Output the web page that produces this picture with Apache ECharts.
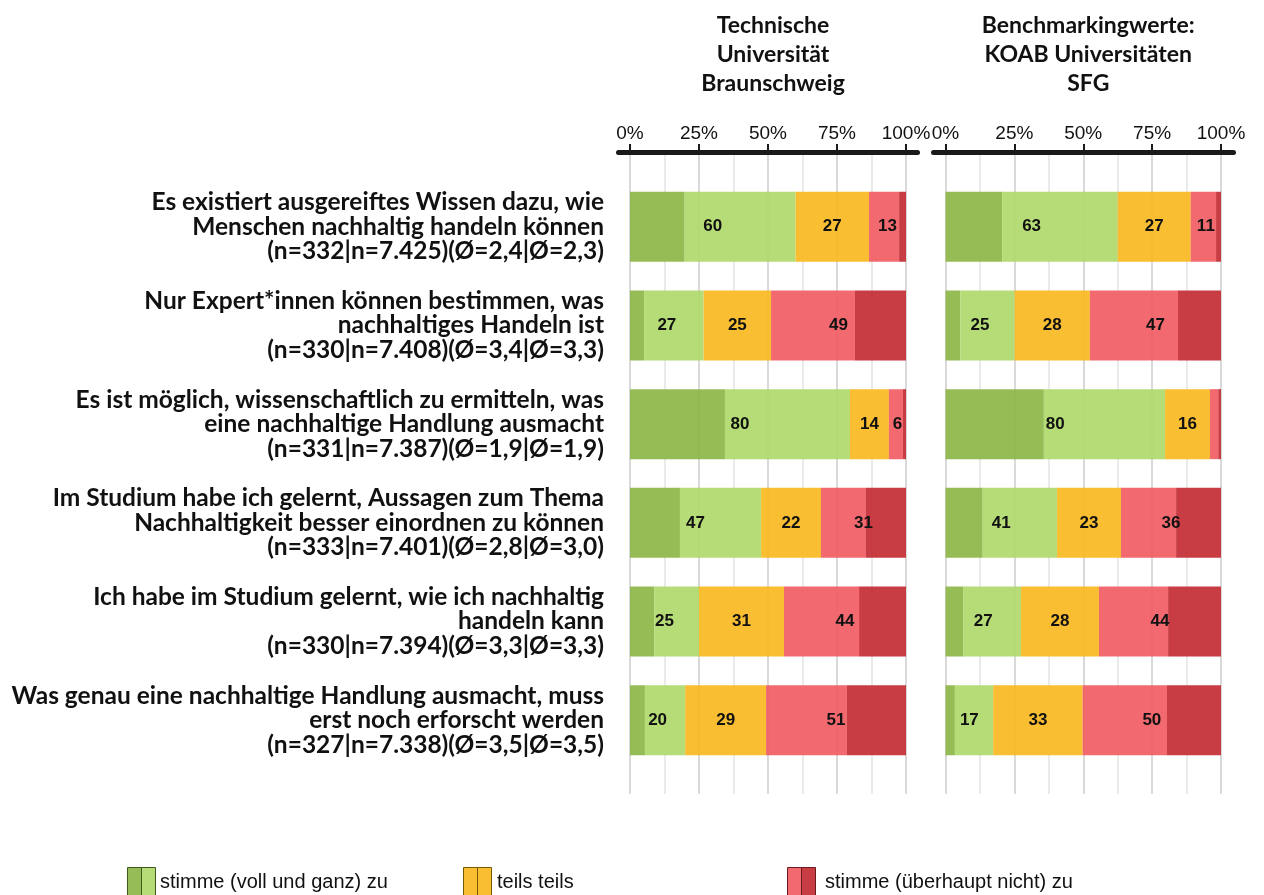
<!DOCTYPE html>
<html>
<head>
<meta charset="utf-8">
<script src="https://cdn.jsdelivr.net/npm/echarts@6/dist/echarts.min.js"></script>
<style>
html,body{margin:0;padding:0;background:#fff;}
#chart{width:1264px;height:895px;}
</style>
</head>
<body>
<div id="chart"></div>
<script>
// ---------- data ----------
const categories = [
  'Es existiert ausgereiftes Wissen dazu, wie\nMenschen nachhaltig handeln können\n(n=332|n=7.425)(Ø=2,4|Ø=2,3)',
  'Nur Expert*innen können bestimmen, was\nnachhaltiges Handeln ist\n(n=330|n=7.408)(Ø=3,4|Ø=3,3)',
  'Es ist möglich, wissenschaftlich zu ermitteln, was\neine nachhaltige Handlung ausmacht\n(n=331|n=7.387)(Ø=1,9|Ø=1,9)',
  'Im Studium habe ich gelernt, Aussagen zum Thema\nNachhaltigkeit besser einordnen zu können\n(n=333|n=7.401)(Ø=2,8|Ø=3,0)',
  'Ich habe im Studium gelernt, wie ich nachhaltig\nhandeln kann\n(n=330|n=7.394)(Ø=3,3|Ø=3,3)',
  'Was genau eine nachhaltige Handlung ausmacht, muss\nerst noch erforscht werden\n(n=327|n=7.338)(Ø=3,5|Ø=3,5)'
];
const panelTitles = ['Technische\nUniversität\nBraunschweig', 'Benchmarkingwerte:\nKOAB Universitäten\nSFG'];
const legendLabels = ['stimme (voll und ganz) zu', 'teils teils', 'stimme (überhaupt nicht) zu'];
const tickValues = [0, 25, 50, 75, 100];

// Technische Universität Braunschweig (percent)
const tuVollZu     = [19.8,  5.1, 34.4, 18.1,  8.8,  5.4];
const tuZu         = [40.2, 21.6, 45.3, 29.4, 16.2, 14.6];
const tuTeils      = [26.6, 24.4, 14.1, 21.7, 30.8, 29.3];
const tuNicht      = [10.9, 30.4,  5.1, 16.3, 27.2, 29.3];
const tuGarNicht   = [ 2.5, 18.5,  1.1, 14.5, 17.0, 21.4];
const tuLabelGreen  = [60, 27, 80, 47, 25, 20];
const tuLabelOrange = [27, 25, 14, 22, 31, 29];
const tuLabelRed    = [13, 49,  6, 31, 44, 51];

// KOAB Universitäten SFG (percent)
const koVollZu     = [20.6,  5.4, 35.7, 13.5,  6.4,  3.4];
const koZu         = [41.9, 19.7, 44.0, 27.0, 21.0, 13.9];
const koTeils      = [26.5, 27.3, 16.3, 23.2, 28.3, 32.5];
const koNicht      = [ 9.2, 32.0,  3.0, 20.0, 25.1, 30.6];
const koGarNicht   = [ 1.8, 15.6,  1.0, 16.3, 19.2, 19.6];
const koLabelGreen  = [63, 25, 80, 41, 27, 17];
const koLabelOrange = [27, 28, 16, 23, 28, 33];
const koLabelRed    = [11, 47, null, 36, 44, 50];

// ---------- styles ----------
const segColors = ['#8db648', '#afd96a', '#f8b820', '#f15d64', '#c32b34'];
const legendColors = [['#96bc57', '#b5dc76'], ['#f9be32', '#f9be32'], ['#f26a70', '#c83c44']];
const legendStroke = ['#3d5a1a', '#7a5a00', '#6a1a1e'];
const catFont = 'Lato, "Open Sans", sans-serif';
const arialFont = '"Liberation Sans", Arial, sans-serif';

const panels = [
  {left: 630, width: 276, lineLeft: 618.5, lineWidth: 299,
   segs: [tuVollZu, tuZu, tuTeils, tuNicht, tuGarNicht],
   labels: [tuLabelGreen, tuLabelOrange, tuLabelRed], title: panelTitles[0]},
  {left: 945.5, width: 275.5, lineLeft: 933.5, lineWidth: 300,
   segs: [koVollZu, koZu, koTeils, koNicht, koGarNicht],
   labels: [koLabelGreen, koLabelOrange, koLabelRed], title: panelTitles[1]}
];

const gridBase = {containLabel: false, outerBoundsMode: 'none'};
const grid = [], xAxis = [], yAxis = [], series = [], title = [];
panels.forEach((p, pi) => {
  const g0 = grid.length;
  // background grid (gridlines + tick labels)
  grid.push(Object.assign({left: p.left, width: p.width, top: 152, height: 642}, gridBase));
  // axis line grid
  grid.push(Object.assign({left: p.lineLeft, width: p.lineWidth, top: 152, height: 1}, gridBase));
  // bars grid
  grid.push(Object.assign({left: p.left, width: p.width, top: 177.4, height: 592.2}, gridBase));

  xAxis.push({
    gridIndex: g0, type: 'value', position: 'top', min: 0, max: 100, interval: 25,
    axisLine: {show: false, onZero: false},
    axisTick: {show: true, length: 8, lineStyle: {color: '#1a1a1a', width: 2}},
    axisLabel: {show: true, margin: 9, fontFamily: arialFont, fontSize: 19, color: '#111',
      formatter: v => tickValues.includes(v) ? v + '%' : ''},
    splitLine: {show: true, lineStyle: {color: '#d9d9d9', width: 2}},
    minorTick: {show: false, splitNumber: 2},
    minorSplitLine: {show: true, lineStyle: {color: '#e4e4e4', width: 1.5}}
  });
  yAxis.push({gridIndex: g0, type: 'value', show: false});

  xAxis.push({
    gridIndex: g0 + 1, type: 'value', position: 'top', min: 0, max: 100,
    axisLine: {show: true, onZero: false, lineStyle: {color: '#1a1a1a', width: 5, cap: 'round'}},
    axisTick: {show: false}, axisLabel: {show: false}, splitLine: {show: false}
  });
  yAxis.push({gridIndex: g0 + 1, type: 'value', show: false});

  xAxis.push({gridIndex: g0 + 2, type: 'value', min: 0, max: 100, show: false});
  yAxis.push({
    gridIndex: g0 + 2, type: 'category', data: categories, inverse: true,
    axisLine: {show: false}, axisTick: {show: false}, splitLine: {show: false},
    axisLabel: {show: pi === 0, margin: 26, align: 'right', fontFamily: catFont, fontWeight: 'bold',
      fontSize: 24.5, lineHeight: 24.5, color: '#111'}
  });

  const axisIdx = g0 + 2;
  p.segs.forEach((arr, si) => {
    series.push({
      type: 'bar', xAxisIndex: axisIdx, yAxisIndex: axisIdx, stack: 'seg' + pi,
      name: 'seg' + pi + '_' + si, data: arr, barWidth: 70, barGap: '-100%',
      itemStyle: {color: segColors[si], opacity: 0.92}, silent: true, z: 3
    });
  });
  // group totals for centred labels
  const greenTot = p.segs[0].map((v, i) => v + p.segs[1][i]);
  const orangeTot = p.segs[2].slice();
  const redTot = p.segs[3].map((v, i) => v + p.segs[4][i]);
  [greenTot, orangeTot, redTot].forEach((arr, gi) => {
    series.push({
      type: 'bar', xAxisIndex: axisIdx, yAxisIndex: axisIdx, stack: 'lbl' + pi,
      name: 'lbl' + pi + '_' + gi, barWidth: 70, barGap: '-100%', silent: true, z: 5,
      itemStyle: {color: 'rgba(0,0,0,0)'},
      data: arr.map((v, i) => ({
        value: v,
        label: {show: p.labels[gi][i] != null, formatter: String(p.labels[gi][i])}
      })),
      label: {show: true, position: 'inside', fontFamily: arialFont, fontWeight: 'bold',
        fontSize: 17, color: '#111'}
    });
  });

  title.push({
    text: p.title, left: p.left + p.width / 2, top: 6, textAlign: 'center',
    textStyle: {fontFamily: catFont, fontWeight: 'bold', fontSize: 23, lineHeight: 29, color: '#111'}
  });
});

// legend drawn as graphic items (two-tone swatches)
const legendPos = [{x: 127, tx: 160}, {x: 463, tx: 497}, {x: 787, tx: 825}];
const graphic = [];
legendLabels.forEach((txt, i) => {
  const lp = legendPos[i];
  graphic.push({type: 'rect', left: lp.x, top: 867, shape: {width: 14, height: 28},
    style: {fill: legendColors[i][0], stroke: legendStroke[i], lineWidth: 1}});
  graphic.push({type: 'rect', left: lp.x + 14, top: 867, shape: {width: 14, height: 28},
    style: {fill: legendColors[i][1], stroke: legendStroke[i], lineWidth: 1}});
  graphic.push({type: 'text', left: lp.tx, top: 872,
    style: {text: txt, fontFamily: arialFont, fontSize: 20, fill: '#111'}});
});

const chart = echarts.init(document.getElementById('chart'), null, {renderer: 'canvas'});
chart.setOption({
  animation: false,
  backgroundColor: '#fff',
  title, grid, xAxis, yAxis, series, graphic
});
</script>
</body>
</html>
